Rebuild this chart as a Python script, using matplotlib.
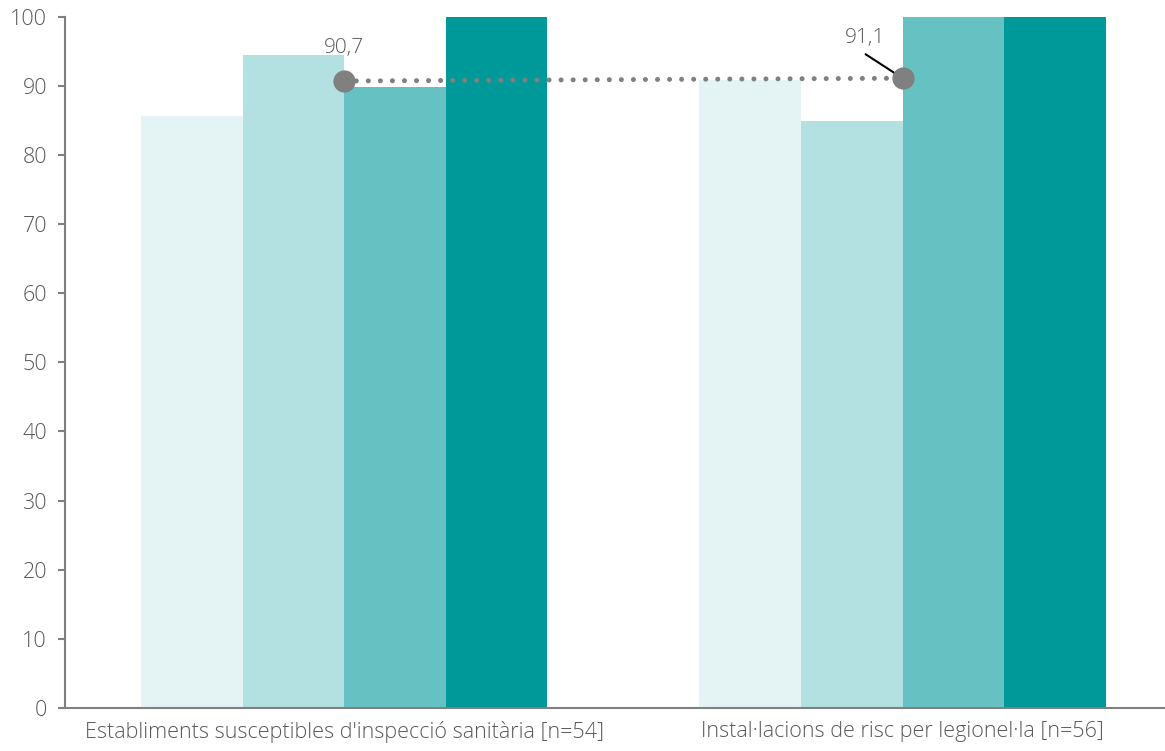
import matplotlib.pyplot as plt
import numpy as np

plt.rcParams['font.family'] = ['Open Sans', 'DejaVu Sans']

categories = ["Establiments susceptibles d'inspecció sanitària [n=54]",
              "Instal·lacions de risc per legionel·la [n=56]"]
serie1 = [85.7, 90.9]
serie2 = [94.4, 84.9]
serie3 = [89.9, 100]
serie4 = [100, 100]
mitjana = [90.7, 91.1]
mitjana_labels = ["90,7", "91,1"]

colors = ['#e4f4f4', '#b3e0e0', '#66c2c2', '#009999']
series = [serie1, serie2, serie3, serie4]

fig = plt.figure(figsize=(11.65, 7.51), dpi=100)
ax = fig.add_axes([65 / 1165, 1 - 708 / 751, 1100 / 1165, (708 - 16.7) / 751])

x = np.arange(len(categories))
w = 0.182
for i, (vals, c) in enumerate(zip(series, colors)):
    ax.bar(x + (i - 1.5) * w, vals, width=w, color=c, linewidth=0, zorder=2)

ax.plot(x, mitjana, color='#808080', linewidth=3.6, linestyle=(0, (0.01, 2.4)),
        dash_capstyle='round', zorder=3)
ax.plot(x, mitjana, 'o', color='#808080', markersize=15, zorder=4)

ax.annotate(mitjana_labels[0], (x[0], mitjana[0]), xytext=(0, 33), textcoords='offset pixels',
            ha='center', va='center', fontsize=15, color='#595959', fontweight='light')
ax.annotate(mitjana_labels[1], (x[1], mitjana[1]), xytext=(-38, 40), textcoords='offset pixels',
            ha='center', va='center', fontsize=15, color='#595959', fontweight='light')
ax.annotate('', (x[1], mitjana[1]), xytext=(-37, 24), textcoords='offset pixels',
            arrowprops=dict(arrowstyle='-', color='black', lw=1.5, shrinkA=0, shrinkB=0))

ax.set_xlim(-0.5, 1.47)
ax.set_ylim(0, 100)
ax.set_yticks(range(0, 101, 10))
ax.set_xticks(x)
ax.set_xticklabels(categories)

for s in ['top', 'right']:
    ax.spines[s].set_visible(False)
for s in ['left', 'bottom']:
    ax.spines[s].set_color('#808080')
    ax.spines[s].set_linewidth(1.5)

ax.tick_params(axis='y', length=5, width=1.5, color='#808080', labelsize=15.5,
               labelcolor='#595959', pad=8)
ax.tick_params(axis='x', length=0, labelsize=15.5, labelcolor='#595959', pad=9)
for lab in ax.get_xticklabels() + ax.get_yticklabels():
    lab.set_fontweight('light')

fig.savefig('out.png', dpi=100)
